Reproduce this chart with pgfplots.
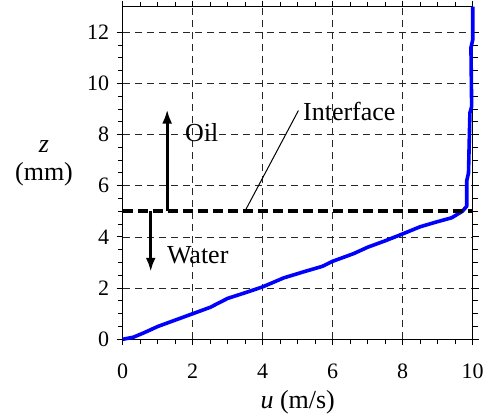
\documentclass[border=0pt]{standalone}
\usepackage{pgfplots}
\pgfplotsset{compat=1.18}
\usetikzlibrary{arrows.meta,calc}
\usepackage{fontspec}
\setmainfont{Liberation Serif}
\begin{document}
\begin{tikzpicture}
\begin{axis}[
  name=ax,
  scale only axis,
  width=350pt, height=332.6pt,
  xmin=0, xmax=10, ymin=0, ymax=13,
  xtick={0,2,...,10}, ytick={0,2,...,12},
  minor x tick num=3, minor y tick num=3,
  tick align=outside,
  major tick length=6pt, minor tick length=5pt,
  tick style={black, line width=1pt},
  axis line style={line width=1.2pt},
  grid=major,
  major grid style={black!85, dash pattern=on 7pt off 5pt, line width=0.7pt},
  ticklabel style={font=\fontsize{22}{24}\selectfont},
  xticklabel style={anchor=base, yshift=-33pt},
  yticklabel style={xshift=-4pt},
  /pgf/number format/assume math mode=true,
  xlabel={\fontsize{26}{28}\selectfont\textit{u} (m/s)},
  xlabel style={at={(axis description cs:0.5,0)}, anchor=base, inner sep=0pt, yshift=-68.7pt},
  clip=false,
]
\addplot[blue, line width=3.6pt, line join=round] coordinates {
(0,0) (0.3,0.08) (0.6,0.25) (1.0,0.5) (1.5,0.75) (2.0,1.0) (2.5,1.25) (3.0,1.6) (3.5,1.82) (4.0,2.05)
(4.6,2.4) (5.2,2.65) (5.7,2.85) (6.0,3.05) (6.6,3.35) (7.0,3.6) (7.5,3.85) (8.0,4.12)
(8.5,4.4) (9.0,4.6) (9.4,4.75) (9.7,5.0) (9.83,5.2) (9.83,6.2) (9.88,6.5) (9.92,8.85)
(9.97,9.1) (9.95,11.4) (10.0,11.7) (10.0,13.0)
};
\draw[black, line width=4pt, dash pattern=on 10pt off 5pt] (axis cs:0,5) -- (axis cs:10,5);
\draw[black, line width=2.8pt, -{Latex[length=14pt,width=10pt]}] (axis cs:1.27,5) -- (axis cs:1.27,8.98);
\draw[black, line width=2.8pt, -{Latex[length=14pt,width=10pt]}] (axis cs:0.8,5) -- (axis cs:0.8,2.64);
\draw[black, line width=1pt] (axis cs:3.49,5) -- (axis cs:5.02,8.94);
\node[anchor=base west, inner sep=0pt, font=\fontsize{26}{28}\selectfont] at (axis cs:1.78,7.72) {Oil};
\node[anchor=base west, inner sep=0pt, font=\fontsize{26}{28}\selectfont] at (axis cs:1.26,2.97) {Water};
\node[anchor=base west, inner sep=0pt, font=\fontsize{26}{28}\selectfont] at (axis cs:5.15,8.55) {Interface};
\end{axis}
\node[font=\fontsize{26}{28}\selectfont, anchor=base, inner sep=0pt] at ($(ax.south west)+(-78.7pt,186.3pt)$) {\textit{z}};
\node[font=\fontsize{26}{28}\selectfont, anchor=base, inner sep=0pt] at ($(ax.south west)+(-78.7pt,158.6pt)$) {(mm)};
\pgfresetboundingbox
\path ($(ax.south west)+(-122.7pt,-77.7pt)$) rectangle ($(ax.south west)+(374.3pt,339.3pt)$);
\end{tikzpicture}
\end{document}
